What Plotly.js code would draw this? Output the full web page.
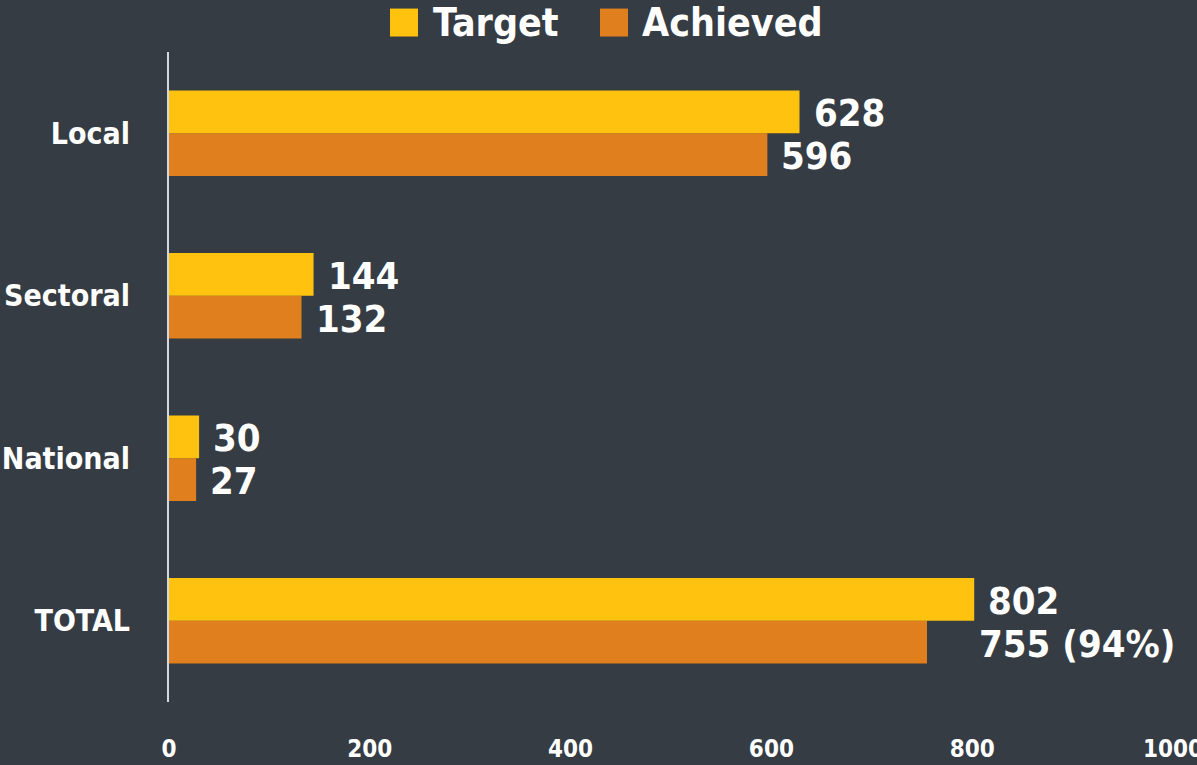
<!DOCTYPE html>
<html>
<head>
<meta charset="utf-8">
<script src="https://cdn.plot.ly/plotly-3.0.1.min.js"></script>
<style>html,body{margin:0;padding:0;background:#353c43;}#chart{width:1197px;height:765px;}</style>
</head>
<body>
<div id="chart"></div>
<script>
const categories = ["TOTAL", "National", "Sectoral", "Local"];
const targetValues = [802, 30, 144, 628];
const achievedValues = [755, 27, 132, 596];
const achievedLabels = ["755 (94%)", "27", "132", "596"];
const targetLabels = ["802", "30", "144", "628"];
const xTicks = [0, 200, 400, 600, 800, 1000];

const FONT = "DejaVu Sans Condensed, Liberation Sans Narrow, sans-serif";
const BG = "#353c43";
const YELLOW = "#fec20f";
const ORANGE = "#e07f1e";

const traces = [
  {type: "bar", orientation: "h", name: "Achieved", y: categories, x: achievedValues,
   marker: {color: ORANGE}, hoverinfo: "x+name", showlegend: false},
  {type: "bar", orientation: "h", name: "Target", y: categories, x: targetValues,
   marker: {color: YELLOW}, hoverinfo: "x+name", showlegend: false}
];

const LABEL_SIZE = 38;
const annotations = [];
categories.forEach((c, i) => {
  annotations.push({x: targetValues[i], y: c, xref: "x", yref: "y", text: targetLabels[i],
    showarrow: false, xanchor: "left", yanchor: "middle", xshift: 12, yshift: 20,
    font: {family: FONT, size: LABEL_SIZE, color: "#ffffff", weight: "bold"}});
  annotations.push({x: achievedValues[i], y: c, xref: "x", yref: "y", text: achievedLabels[i],
    showarrow: false, xanchor: "left", yanchor: "middle", xshift: c === "TOTAL" ? 50 : 12, yshift: -23,
    font: {family: FONT, size: LABEL_SIZE, color: "#ffffff", weight: "bold"}});
});

// legend drawn as shapes + text (paper coords relative to plot area)
const L = 169, R = 1173, T = 51.5, B = 702.5;
const px = v => (v - L) / (R - L);
const py = v => (B - v) / (B - T);
const legendItems = [
  {name: "Target", color: YELLOW, sq: 390, tx: 431},
  {name: "Achieved", color: ORANGE, sq: 600, tx: 640}
];
const shapes = [];
legendItems.forEach(it => {
  shapes.push({type: "rect", xref: "paper", yref: "paper", x0: px(it.sq), x1: px(it.sq + 28),
    y0: py(36), y1: py(8), fillcolor: it.color, line: {width: 0}});
  annotations.push({xref: "paper", yref: "paper", x: px(it.tx), y: py(22), text: it.name,
    showarrow: false, xanchor: "left", yanchor: "middle",
    font: {family: FONT, size: 39, color: "#ffffff", weight: "bold"}});
});

const layout = {
  width: 1197, height: 765,
  paper_bgcolor: BG, plot_bgcolor: BG,
  margin: {l: L, r: 1197 - R, t: T, b: 765 - B, pad: 0},
  barmode: "group", bargap: 0.475, bargroupgap: 0,
  showlegend: false,
  xaxis: {range: [0, 1000], tickvals: xTicks, ticktext: xTicks.map(String),
    showgrid: false, zeroline: false, showline: false,
    ticks: "outside", ticklen: 25, tickcolor: "rgba(0,0,0,0)", ticklabeloverflow: "allow",
    tickfont: {family: FONT, size: 24, color: "#ffffff", weight: "bold"}},
  yaxis: {type: "category", categoryorder: "array", categoryarray: categories, range: [-0.5, 3.5],
    showgrid: false, zeroline: false, showline: true, linecolor: "#d5d9dd", linewidth: 2,
    ticks: "outside", ticklen: 31, tickcolor: "rgba(0,0,0,0)",
    tickfont: {family: FONT, size: 30, color: "#ffffff", weight: "bold"}},
  shapes: shapes,
  annotations: annotations
};

Plotly.newPlot("chart", traces, layout, {displayModeBar: false, staticPlot: true});
</script>
</body>
</html>
